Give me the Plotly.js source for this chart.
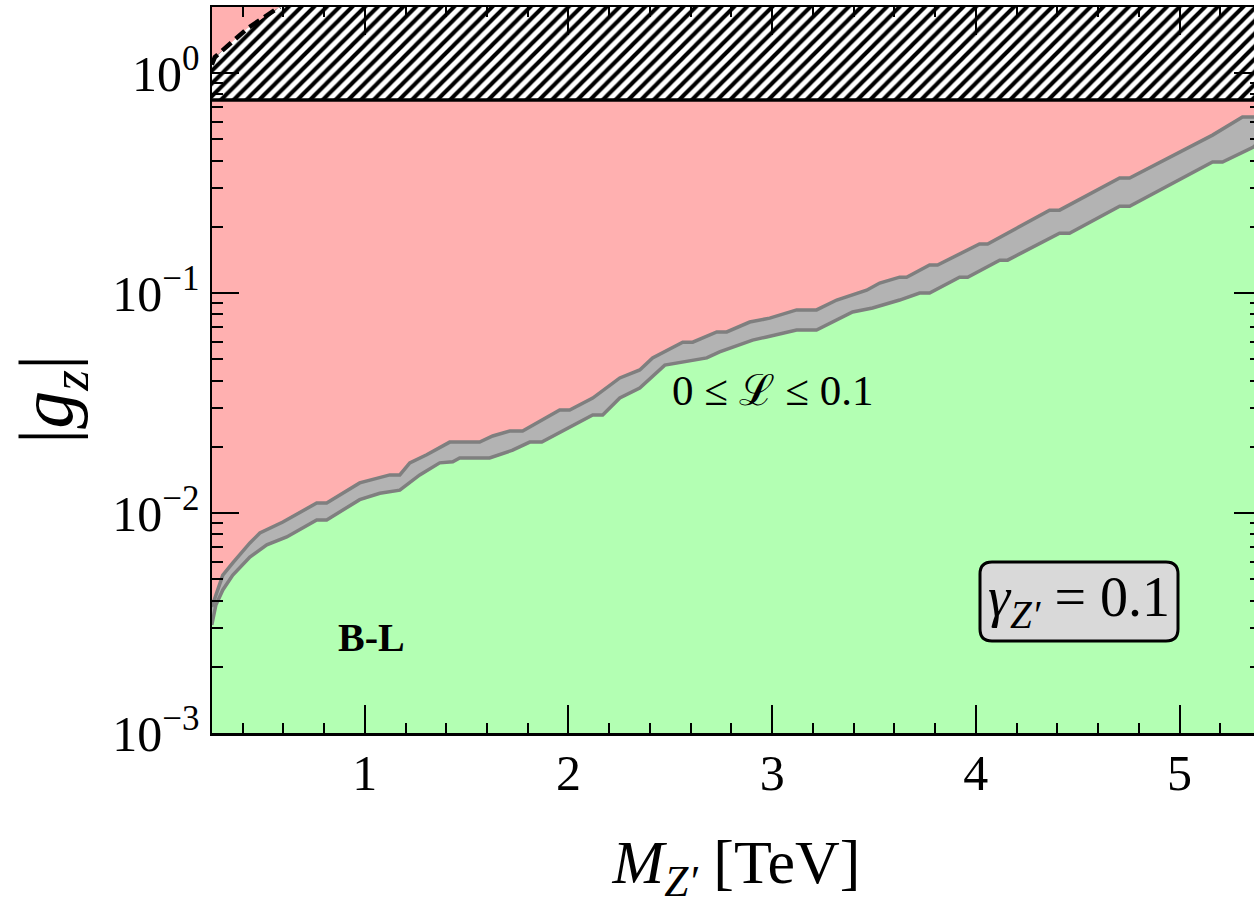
<!DOCTYPE html>
<html>
<head>
<meta charset="utf-8">
<script src="https://cdn.plot.ly/plotly-3.0.1.min.js"></script>
<style>
html, body { margin:0; padding:0; overflow:hidden; background:#ffffff; }
#chart { width:1270px; height:917px; }
</style>
</head>
<body>
<div id="chart"></div>
<script>
// ---------- data ----------
// upper edge of the grey band (red / grey boundary)
const upperM = [0.249,0.303,0.352,0.436,0.485,0.598,0.764,0.813,0.975,1.025,1.123,1.172,1.221,1.304,1.417,1.564,1.628,1.712,1.775,1.957,2.006,2.119,2.252,2.350,2.413,2.561,2.610,2.728,2.777,2.890,2.988,3.120,3.218,3.317,3.464,3.528,3.626,3.660,3.773,3.812,4.018,4.058,4.362,4.411,4.706,4.755,5.162,5.309,5.40];
const upperG = [0.00374,0.00522,0.00593,0.00731,0.00811,0.00910,0.0111,0.0111,0.0137,0.0141,0.0149,0.0149,0.0169,0.0184,0.0210,0.0210,0.0224,0.0236,0.0236,0.0294,0.0294,0.0333,0.0411,0.0447,0.0507,0.0598,0.0598,0.0665,0.0665,0.0738,0.0769,0.0838,0.0838,0.0929,0.103,0.111,0.118,0.118,0.134,0.134,0.167,0.167,0.238,0.238,0.333,0.333,0.522,0.631,0.631];
// lower edge of the grey band (grey / green boundary)
const lowerM = [0.249,0.269,0.303,0.352,0.436,0.519,0.617,0.764,0.813,0.975,1.074,1.172,1.270,1.368,1.432,1.466,1.613,1.726,1.810,1.869,2.119,2.168,2.252,2.350,2.473,2.679,2.742,2.904,2.973,3.120,3.218,3.395,3.493,3.626,3.724,3.773,3.920,3.960,4.117,4.156,4.411,4.460,4.706,4.755,5.162,5.211,5.363,5.40];
const lowerG = [0.00310,0.00382,0.00447,0.00522,0.00631,0.00716,0.00778,0.00929,0.00929,0.0115,0.0123,0.0127,0.0149,0.0169,0.0171,0.0178,0.0178,0.0193,0.0210,0.0210,0.0279,0.0279,0.0333,0.0370,0.0470,0.0507,0.0540,0.0611,0.0631,0.0679,0.0679,0.0820,0.0855,0.0929,0.100,0.100,0.118,0.118,0.141,0.141,0.187,0.187,0.248,0.248,0.394,0.394,0.461,0.49];
// dashed boundary of the hatched (excluded) region, top-left corner
const dashM = [0.249,0.264,0.347,0.426,0.509,0.583];
const dashG = [1.09,1.18,1.38,1.60,1.80,2.0];
// perturbativity limit (horizontal black line)
const limitG = 0.754;

// axis ticks
const yTickVals = [0.001, 0.01, 0.1, 1];
const yTickText = ["10<sup>\u22123</sup>", "10<sup>\u22122</sup>", "10<sup>\u22121</sup>", "10<sup>0</sup>"];
const xTickVals = [1, 2, 3, 4, 5];
const xTickText = ["1", "2", "3", "4", "5"];

// ---------- ranges ----------
const xMin = 0.25, xMax = 5.40;
const yMinLog = -3, yMaxLog = 0.3;
const yBottom = 1e-4, yTop = 10;   // beyond the visible range (clipped)

// colours
const PINK = '#ffb0b0', GREEN = '#b3ffb3', BAND = '#b3b3b3', EDGE = '#7f7f7f';

const traces = [];

// green allowed region: below lower edge
traces.push({
  x: lowerM.concat([xMax + 0.2, lowerM[0] - 0.2]),
  y: lowerG.concat([yBottom, yBottom]),
  mode: 'none', fill: 'toself', fillcolor: GREEN, hoverinfo: 'skip', showlegend: false
});

// grey band between upper and lower edge
traces.push({
  x: upperM.concat(lowerM.slice().reverse()),
  y: upperG.concat(lowerG.slice().reverse()),
  mode: 'none', fill: 'toself', fillcolor: BAND, hoverinfo: 'skip', showlegend: false
});
// band edges
traces.push({ x: upperM, y: upperG, mode: 'lines', line: {color: EDGE, width: 3.5}, hoverinfo: 'skip', showlegend: false });
traces.push({ x: lowerM, y: lowerG, mode: 'lines', line: {color: EDGE, width: 3.5}, hoverinfo: 'skip', showlegend: false });

// hatched region above the limit, excluding the corner bounded by the dashed curve
const hx = [dashM[0] - 0.05, dashM[0] - 0.05].concat(dashM).concat([dashM[dashM.length - 1], xMax + 0.2, xMax + 0.2]);
const hy = [limitG, dashG[0]].concat(dashG).concat([yTop, yTop, limitG]);
traces.push({
  x: hx, y: hy, mode: 'none', fill: 'toself', fillcolor: 'white',
  fillpattern: {shape: '/', fgcolor: '#000000', bgcolor: '#ffffff', size: 9, solidity: 0.45},
  hoverinfo: 'skip', showlegend: false
});

// dashed boundary
traces.push({ x: dashM, y: dashG, mode: 'lines', line: {color: '#000000', width: 4.5, dash: '12px,6px'}, hoverinfo: 'skip', showlegend: false });

// horizontal limit line
traces.push({ x: [xMin - 0.1, xMax + 0.1], y: [limitG, limitG], mode: 'lines', line: {color: '#000000', width: 3.5}, hoverinfo: 'skip', showlegend: false });

// ---------- layout ----------
const W = 1270, H = 917;
const mL = 212, mR = 9, mT = 7, mB = 184;
const pw = W - mL - mR, ph = H - mT - mB;
function px2paperX(px) { return (px - mL) / pw; }
function px2paperY(py) { return (H - mB - py) / ph; }
function roundRect(x0, y0, x1, y1, r) {
  const X = px2paperX, Y = px2paperY;
  return 'M' + X(x0 + r) + ',' + Y(y0) +
    ' L' + X(x1 - r) + ',' + Y(y0) +
    ' Q' + X(x1) + ',' + Y(y0) + ' ' + X(x1) + ',' + Y(y0 + r) +
    ' L' + X(x1) + ',' + Y(y1 - r) +
    ' Q' + X(x1) + ',' + Y(y1) + ' ' + X(x1 - r) + ',' + Y(y1) +
    ' L' + X(x0 + r) + ',' + Y(y1) +
    ' Q' + X(x0) + ',' + Y(y1) + ' ' + X(x0) + ',' + Y(y1 - r) +
    ' L' + X(x0) + ',' + Y(y0 + r) +
    ' Q' + X(x0) + ',' + Y(y0) + ' ' + X(x0 + r) + ',' + Y(y0) + ' Z';
}

const FONT = 'Liberation Serif, DejaVu Serif, serif';

const layout = {
  width: W, height: H,
  margin: {l: mL, r: mR, t: mT, b: mB, pad: 0},
  paper_bgcolor: '#ffffff',
  plot_bgcolor: PINK,
  showlegend: false,
  font: {family: FONT, color: '#000000'},
  xaxis: {
    type: 'linear', range: [xMin, xMax], autorange: false,
    showgrid: false, zeroline: false,
    showline: true, linecolor: '#000000', linewidth: 2.5, mirror: 'allticks',
    ticks: 'inside', ticklen: 28, tickwidth: 2, tickcolor: '#000000',
    tickmode: 'array', tickvals: xTickVals, ticktext: xTickText,
    tickfont: {family: FONT, size: 50, color: '#000000'},
    ticklabelstandoff: -6,
    minor: {ticks: 'inside', ticklen: 10, tickwidth: 2, tickcolor: '#000000', dtick: 0.2, tick0: 0, showgrid: false},
    title: {text: '<i>M</i><sub><i>Z\u2032</i></sub> [TeV]', font: {family: FONT, size: 62, color: '#000000'}, standoff: 40}
  },
  yaxis: {
    type: 'log', range: [yMinLog, yMaxLog], autorange: false,
    showgrid: false, zeroline: false,
    showline: true, linecolor: '#000000', linewidth: 2.5, mirror: 'allticks',
    ticks: 'inside', ticklen: 27, tickwidth: 2, tickcolor: '#000000',
    tickmode: 'array', tickvals: yTickVals, ticktext: yTickText,
    tickfont: {family: FONT, size: 50, color: '#000000'},
    minor: {ticks: 'inside', ticklen: 11, tickwidth: 2, tickcolor: '#000000', dtick: 'D1', showgrid: false}
  },
  shapes: [
    {type: 'path', xref: 'paper', yref: 'paper', path: roundRect(980, 562, 1178, 641, 12),
     fillcolor: '#d9d9d9', line: {color: '#000000', width: 3}, layer: 'above'}
  ],
  annotations: [
    // y-axis title (placed as annotation to match the reference position)
    {x: px2paperX(52), y: px2paperY(400), xref: 'paper', yref: 'paper', xanchor: 'center', yanchor: 'middle',
     textangle: -90, text: '|<i>g</i><sub><i>z</i></sub>|', showarrow: false,
     font: {family: FONT, size: 76, color: '#000000'}},
    {x: 3.0, y: -1.441, xref: 'x', yref: 'y', xanchor: 'center', yanchor: 'middle',
     text: '0 \u2264 \u2112 \u2264 0.1', showarrow: false,
     font: {family: FONT, size: 43, color: '#000000'}},
    {x: 1.034, y: -2.568, xref: 'x', yref: 'y', xanchor: 'center', yanchor: 'middle',
     text: '<b>B-L</b>', showarrow: false,
     font: {family: FONT, size: 40, color: '#000000'}},
    {x: px2paperX(1079), y: px2paperY(601), xref: 'paper', yref: 'paper', xanchor: 'center', yanchor: 'middle',
     text: '<i>\u03b3</i><sub><i>Z\u2032</i></sub> = 0.1', showarrow: false,
     font: {family: FONT, size: 56, color: '#000000'}}
  ]
};

Plotly.newPlot('chart', traces, layout, {staticPlot: true, displayModeBar: false});
</script>
</body>
</html>
